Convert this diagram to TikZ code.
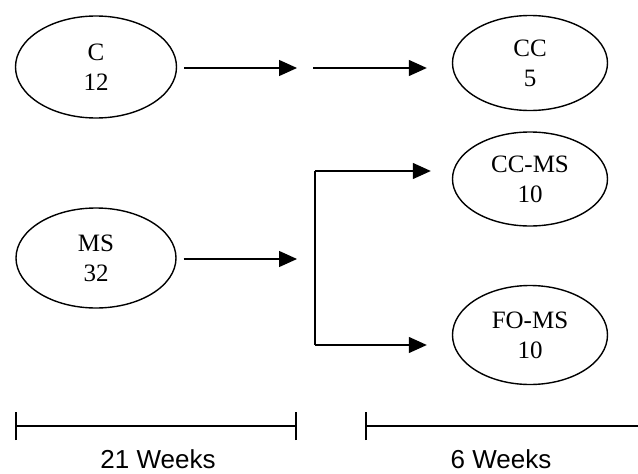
\documentclass[tikz,border=0pt]{standalone}
\usepackage{fontspec}
\setmainfont{Liberation Serif}
\setsansfont{Liberation Sans}
\usetikzlibrary{shapes.geometric,arrows.meta}
\tikzset{
  grp/.style={ellipse, draw, line width=1.4pt, inner sep=0pt, align=center,
    font=\fontsize{25}{30}\selectfont},
  arr/.style={line width=1.3pt, -{Triangle[length=18pt,width=16pt]}},
  tl/.style={line width=1.3pt},
  wk/.style={font=\sffamily\fontsize{26}{30}\selectfont, inner sep=0pt, anchor=base},
}
\begin{document}
\begin{tikzpicture}[x=1pt,y=-1pt]
\useasboundingbox (0,0) rectangle (638,474);
\node[grp, minimum width=161pt, minimum height=102pt] (C) at (96,67) {C\\12};
\node[grp, minimum width=155pt, minimum height=95pt] (CC) at (530,63) {CC\\5};
\node[grp, minimum width=160pt, minimum height=100pt] (MS) at (96,258) {MS\\32};
\node[grp, minimum width=155pt, minimum height=94pt] (CCMS) at (530,179) {CC-MS\\10};
\node[grp, minimum width=155pt, minimum height=99pt] (FOMS) at (530,335) {FO-MS\\10};
% top arrows
\coordinate (a1) at (297,68);
\coordinate (a2) at (313,68);
\draw[arr] ([xshift=7pt]C.east |- a1) -- (a1);
\draw[arr] (a2) -- ([xshift=-25pt]CC.west |- a2);
% MS arrow
\coordinate (m1) at (297,259);
\draw[arr] ([xshift=7pt]MS.east |- m1) -- (m1);
% branch
\coordinate (j1) at (315,171);
\coordinate (j2) at (315,345);
\draw[tl] (j1) -- (j2);
\draw[arr] (j1) -- ([xshift=-21pt]CCMS.west |- j1);
\draw[arr] (j2) -- ([xshift=-25pt]FOMS.west |- j2);
% timelines
\coordinate (t1) at (16,426);
\coordinate (t2) at (296,426);
\coordinate (t3) at (366,426);
\coordinate (t4) at (638,426);
\draw[tl] (t1) -- (t2);
\draw[tl] ([yshift=-14pt]t1) -- ([yshift=14pt]t1);
\draw[tl] ([yshift=-14pt]t2) -- ([yshift=14pt]t2);
\draw[tl] (t3) -- (t4);
\draw[tl] ([yshift=-14pt]t3) -- ([yshift=14pt]t3);
\node[wk] (w1) at (158,468) {21 Weeks};
\node[wk] (w2) at (501,468) {6 Weeks};
\end{tikzpicture}
\end{document}
